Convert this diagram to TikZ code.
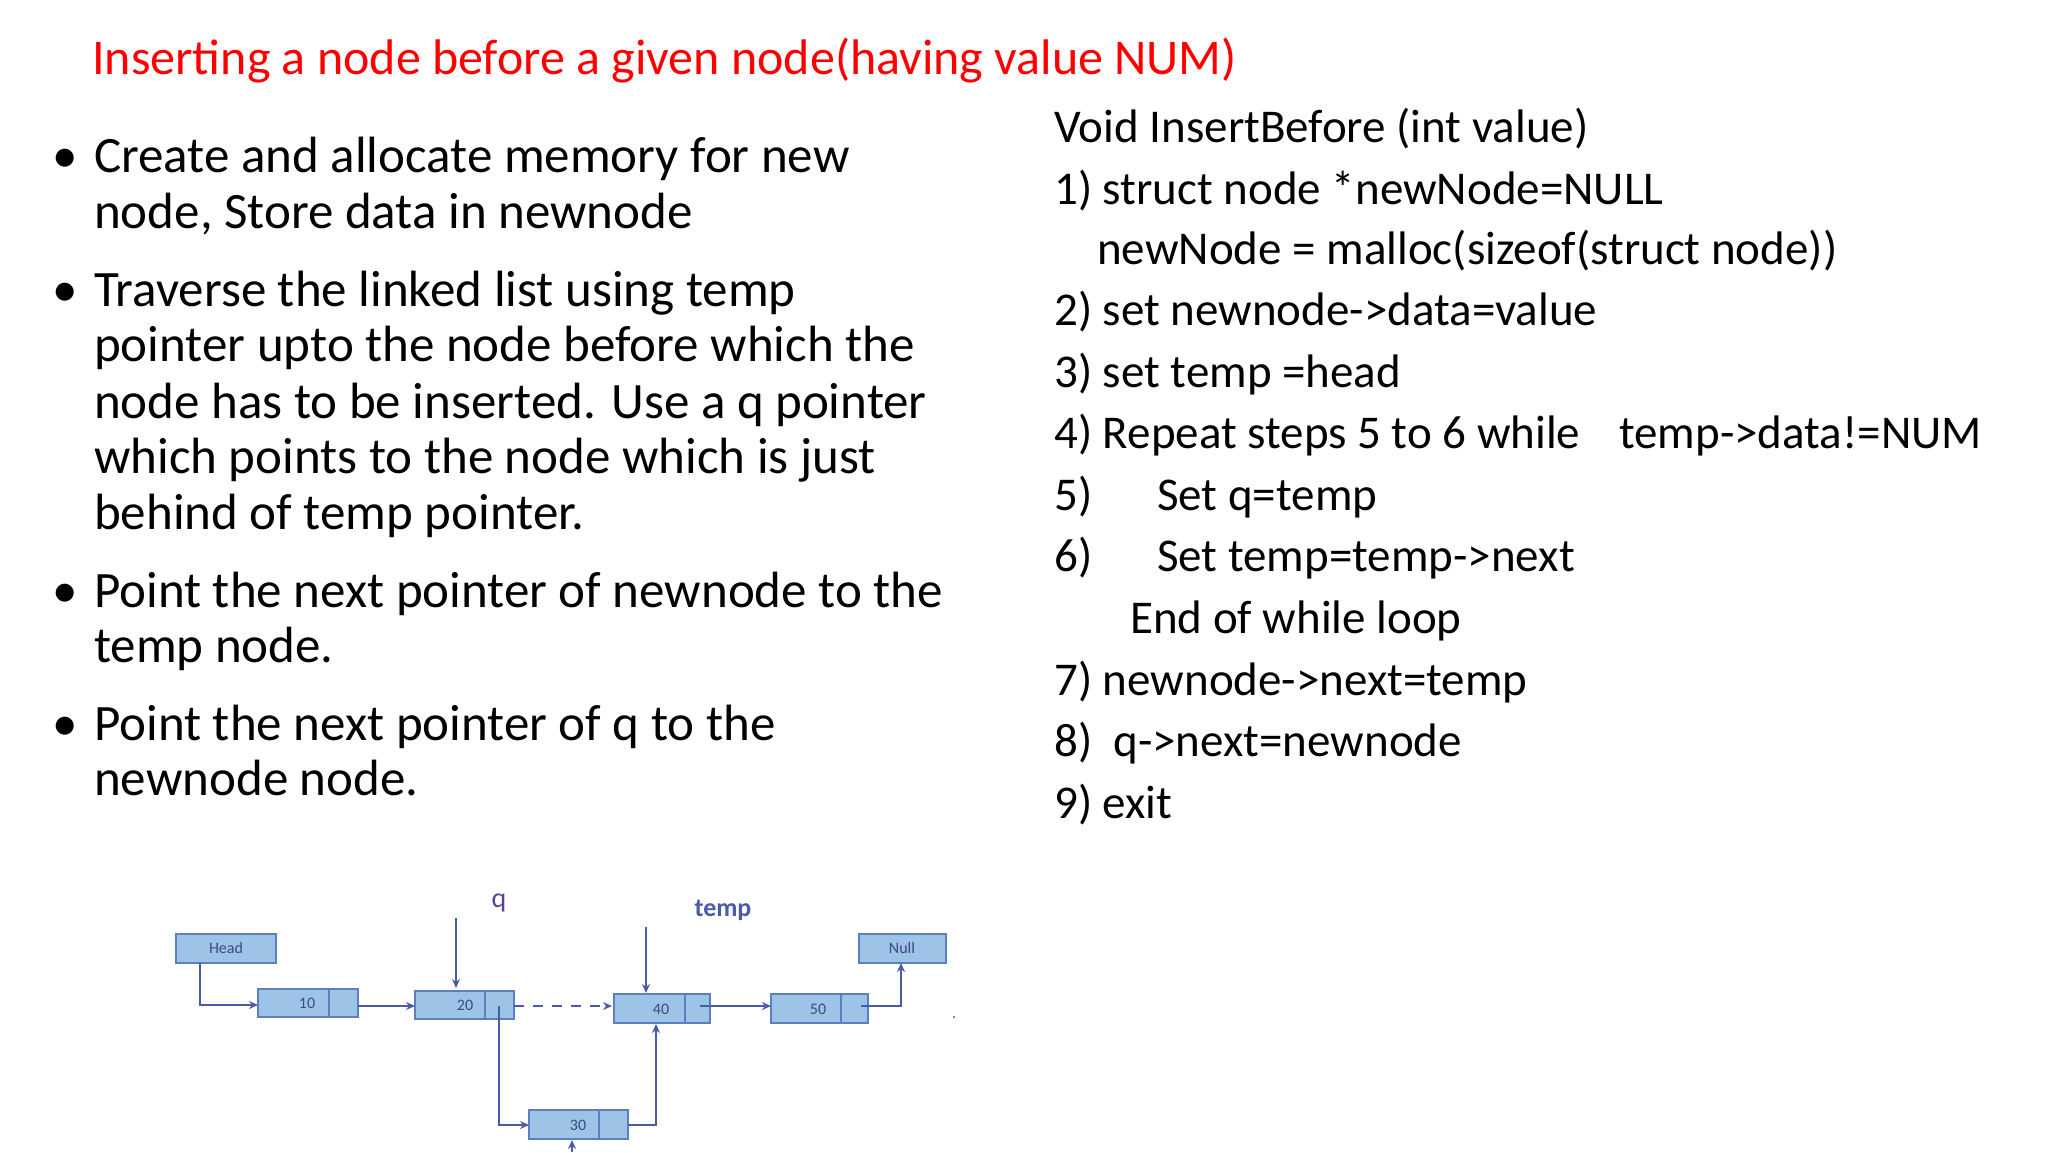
\documentclass[tikz,border=0pt]{standalone}
\usepackage{fontspec}
\setmainfont{Carlito}
\usetikzlibrary{arrows.meta}
\definecolor{bfill}{HTML}{9DC3E6}
\definecolor{bdraw}{HTML}{5B7FBF}
\definecolor{arr}{HTML}{4A5BA8}
\begin{document}
\begin{tikzpicture}[x=1pt,y=-1pt,
  tx/.style={anchor=base west,inner sep=0,font=\fontsize{47}{52}\selectfont},
  bul/.style={anchor=base west,inner sep=0,font=\fontsize{51}{56}\selectfont},
  cell/.style={draw=bdraw,fill=bfill,line width=1.2pt},
  lbl/.style={font=\fontsize{16}{18}\selectfont,text=arr!80!black},
  con/.style={draw=arr,line width=1.6pt,-{Stealth[length=9pt,width=8pt]}}]
\useasboundingbox (0,0) rectangle (2048,1152);
\node[tx,text=red,font=\fontsize{50}{56}\selectfont] (title) at (92,74) {Inserting a node before a given node(having value NUM)};
% bullets
\foreach \y in {172,306,607,740} \node[bul] at (52,\y) {•};
\node[bul] (b1) at (94,172) {Create and allocate memory for new};
\node[bul] (b1b) at (94,228) {node, Store data in newnode};
\node[bul] (b2) at (94,306) {Traverse the linked list using temp};
\node[bul] (b2b) at (94,361) {pointer upto the node before which the};
\node[bul] (b2c) at (94,418) {node has to be inserted. Use a q pointer};
\node[bul] (b2d) at (94,473) {which points to the node which is just};
\node[bul] (b2e) at (94,529) {behind of temp pointer.};
\node[bul] (b3) at (94,607) {Point the next pointer of newnode to the};
\node[bul] (b3b) at (94,662) {temp node.};
\node[bul] (b4) at (94,740) {Point the next pointer of q to the};
\node[bul] (b4b) at (94,795) {newnode node.};
% code
\node[tx] (c0) at (1054,142) {Void InsertBefore (int value)};
\node[tx] (c1) at (1054,204) {1) struct node *newNode=NULL};
\node[tx] (c1b) at (1097,264) {newNode = malloc(sizeof(struct node))};
\node[tx] (c2) at (1054,325) {2) set newnode->data=value};
\node[tx] (c3) at (1054,387) {3) set temp =head};
\node[tx] (c4) at (1054,448) {4) Repeat steps 5 to 6 while};
\node[tx] (c4b) at (1619,448) {temp->data!=NUM};
\node[tx] (c5) at (1054,510) {5)};
\node[tx] (c5b) at (1157,510) {Set q=temp};
\node[tx] (c6) at (1054,571) {6)};
\node[tx] (c6b) at (1157,571) {Set temp=temp->next};
\node[tx] (c6c) at (1130,633) {End of while loop};
\node[tx] (c7) at (1054,695) {7) newnode->next=temp};
\node[tx] (c8) at (1054,756) {8)\ \ q->next=newnode};
\node[tx] (c9) at (1054,818) {9) exit};
% diagram
\draw[cell] (176,934) rectangle (276,963); \node[lbl] (head) at (226,948) {Head};
\draw[cell] (859,934) rectangle (946,963); \node[lbl] (null) at (902,948) {Null};
\draw[cell] (258,989) rectangle (358,1017); \draw[bdraw,line width=1.2pt] (329,989)--(329,1017); \node[lbl] (n10) at (307,1003) {10};
\draw[cell] (415,991) rectangle (514,1019); \draw[bdraw,line width=1.2pt] (485,991)--(485,1019); \node[lbl] (n20) at (465,1005) {20};
\draw[cell] (614,994) rectangle (710,1023); \draw[bdraw,line width=1.2pt] (685,994)--(685,1023); \node[lbl] (n40) at (661,1009) {40};
\draw[cell] (771,994) rectangle (868,1023); \draw[bdraw,line width=1.2pt] (841,994)--(841,1023); \node[lbl] (n50) at (818,1009) {50};
\draw[cell] (529,1110) rectangle (628,1139); \draw[bdraw,line width=1.2pt] (599,1110)--(599,1139); \node[lbl] (n30) at (578,1125) {30};
\node[text=arr!70!violet,font=\fontsize{28}{30}\selectfont] (q) at (499,903) {q};
\node[text=arr,font=\bfseries\fontsize{26}{28}\selectfont] (temp) at (723,910) {temp};
\coordinate (qs) at (456,918); \coordinate (qe) at (456,988);
\coordinate (ts) at (646,927); \coordinate (te) at (646,993);
\draw[con] (qs)--(qe);
\draw[con] (ts)--(te);
\draw[con] (200,963)--(200,1005)--(258,1005);
\draw[con] (358,1006)--(415,1006);
\draw[con,dashed,dash pattern=on 10pt off 9pt] (514,1006)--(612,1006);
\draw[con] (499,1006)--(499,1125)--(529,1125);
\draw[con] (628,1125)--(656,1125)--(656,1024);
\draw[con] (700,1006)--(771,1006);
\draw[con] (861,1006)--(901,1006)--(901,963);
\coordinate (ub) at (572,1152);
\draw[con] (ub)--(572,1140);
\fill[arr] (954,1017) circle (1.2pt);
\end{tikzpicture}
\end{document}
